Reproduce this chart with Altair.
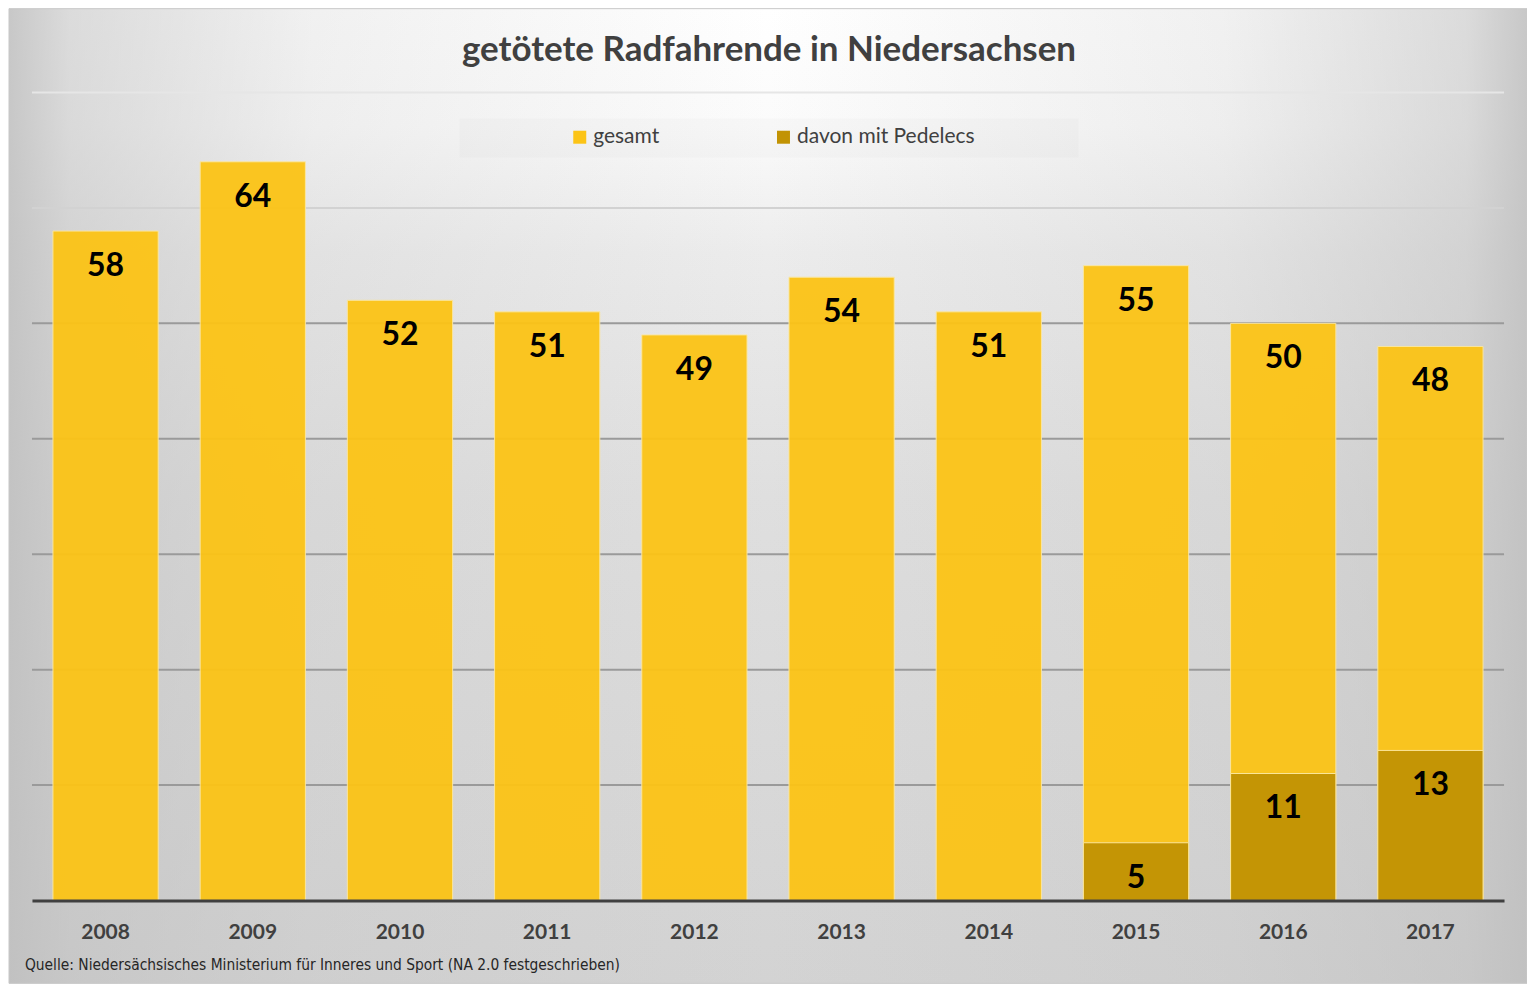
import altair as alt
import pandas as pd

# ---- data ----
years = ["2008", "2009", "2010", "2011", "2012", "2013", "2014", "2015", "2016", "2017"]
gesamt = [58, 64, 52, 51, 49, 54, 51, 55, 50, 48]
pedelec_years = ["2015", "2016", "2017"]
pedelec = [5, 11, 13]
series_names = ["gesamt", "davon mit Pedelecs"]
grid_values = [10, 20, 30, 40, 50, 60, 70]
title_text = "getötete Radfahrende in Niedersachsen"
source_text = "Quelle: Niedersächsisches Ministerium für Inneres und Sport (NA 2.0   festgeschrieben)"

rows = [{"Jahr": y, "Serie": series_names[0], "Wert": v} for y, v in zip(years, gesamt)]
rows += [{"Jahr": y, "Serie": series_names[1], "Wert": v} for y, v in zip(pedelec_years, pedelec)]
df = pd.DataFrame(rows)
grid_df = pd.DataFrame({"v": grid_values})

W, H = 1474, 809
FONT = "Lato"
TXT = "#404040"

y_scale = alt.Scale(domain=[0, 70], nice=False, zero=True)
x_enc = alt.X(
    "Jahr:N",
    sort=years,
    scale=alt.Scale(paddingInner=0.285, paddingOuter=0.1425),
    axis=alt.Axis(
        title=None, labelAngle=0, labelFont=FONT, labelFontSize=21,
        labelFontWeight="bold", labelColor=TXT, labelBaseline="middle",
        labelPadding=32, ticks=False, tickSize=0, grid=False,
        domainColor=TXT, domainWidth=3, zindex=1,
    ),
)

one = alt.Data(values=[{"k": 1}])

# vertical light-to-grey base
bg_vertical = alt.LinearGradient(
    gradient="linear", x1=0, y1=0, x2=0, y2=1,
    stops=[
        alt.GradientStop(offset=0.0, color="#ffffff"),
        alt.GradientStop(offset=0.12, color="#fbfbfb"),
        alt.GradientStop(offset=0.25, color="#ececec"),
        alt.GradientStop(offset=0.5, color="#dfdfdf"),
        alt.GradientStop(offset=1.0, color="#d3d3d3"),
    ],
)
# horizontal grey vignette at the sides
bg_sides = alt.LinearGradient(
    gradient="linear", x1=0, y1=0, x2=1, y2=0,
    stops=[
        alt.GradientStop(offset=0.0, color="rgba(190,190,190,0.85)"),
        alt.GradientStop(offset=0.04, color="rgba(190,190,190,0.55)"),
        alt.GradientStop(offset=0.2, color="rgba(190,190,190,0.22)"),
        alt.GradientStop(offset=0.5, color="rgba(190,190,190,0)"),
        alt.GradientStop(offset=0.8, color="rgba(190,190,190,0.22)"),
        alt.GradientStop(offset=0.96, color="rgba(190,190,190,0.55)"),
        alt.GradientStop(offset=1.0, color="rgba(190,190,190,0.85)"),
    ],
)

background = alt.Chart(one).mark_rect(fill=bg_vertical).encode(
    x=alt.value(-23), x2=alt.value(1497), y=alt.value(-84), y2=alt.value(892)
)
background2 = alt.Chart(one).mark_rect(
    fill=bg_sides, stroke="#c8c8c8", strokeWidth=1
).encode(x=alt.value(-23), x2=alt.value(1497), y=alt.value(-84), y2=alt.value(892))

legend_box = alt.Chart(one).mark_rect(fill="#000000", opacity=0.015).encode(
    x=alt.value(428), x2=alt.value(1048), y=alt.value(26), y2=alt.value(65)
)

grid = alt.Chart(grid_df).mark_rule(strokeWidth=2).encode(
    y=alt.Y("v:Q", scale=y_scale, axis=None),
    stroke=alt.when(alt.datum.v >= 70).then(alt.value("#e6e6e6"))
    .when(alt.datum.v >= 60).then(alt.value("#d2d2d2"))
    .otherwise(alt.value("#9a9a9a")),
)

bars = alt.Chart(df).mark_bar(
    opacity=0.95, stroke="#fbe7a0", strokeWidth=1
).encode(
    x=x_enc,
    y=alt.Y("Wert:Q", stack=None, scale=y_scale, axis=None),
    color=alt.Color(
        "Serie:N",
        scale=alt.Scale(domain=series_names, range=["#FCC416", "#C29304"]),
        legend=alt.Legend(
            orient="none", legendX=538, legendY=34, direction="horizontal",
            title=None, symbolType="square", symbolSize=169, symbolStrokeWidth=0,
            symbolOpacity=1, labelFont=FONT, labelFontSize=21, labelColor=TXT,
            labelOffset=3, columnPadding=113, labelLimit=400,
        ),
    ),
)

labels = alt.Chart(df).mark_text(
    font=FONT, fontSize=32, fontWeight="bold", color="#000000",
    baseline="middle", align="center", dy=35,
).encode(
    x=alt.X("Jahr:N", sort=years),
    y=alt.Y("Wert:Q", stack=None, scale=y_scale, axis=None),
    text=alt.Text("Wert:Q"),
)

title = alt.Chart(one).mark_text(
    text=title_text, font=FONT, fontSize=35, fontWeight="bold", color=TXT,
    align="center", baseline="middle",
).encode(x=alt.value(738), y=alt.value(-43))

source = alt.Chart(one).mark_text(
    text=source_text, font="DejaVu Sans Condensed, Roboto Condensed, Roboto",
    fontSize=15.4, color="#262626", align="left", baseline="middle",
).encode(x=alt.value(-7), y=alt.value(874))

chart = alt.layer(
    background, background2, legend_box, grid, bars, labels, title, source
).properties(
    width=W, height=H,
    autosize=alt.AutoSizeParams(type="none"),
    padding={"left": 24, "top": 84, "right": 23, "bottom": 83},
).configure_view(stroke=None)

chart.save("out.html", embed_options={"renderer": "svg", "actions": False})
